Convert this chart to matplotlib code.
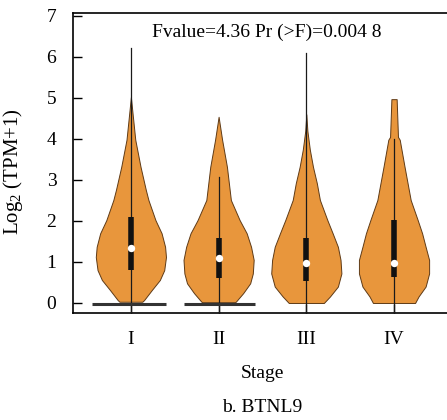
import numpy as np
import matplotlib
matplotlib.use("Agg")
import matplotlib.pyplot as plt

plt.rc('font', family='Liberation Serif', size=14)
plt.rc('mathtext', fontset='custom', rm='Liberation Serif', it='Liberation Serif:italic')

stages = ['I', 'II', 'III', 'IV']

# violin outlines: heights and half widths, one pair of lists per stage
prof_y_I = [5.02, 4.50, 3.98, 3.32, 2.76, 2.51, 2.02, 1.70, 1.37, 1.12, 0.80, 0.56, 0.32, 0.07, 0.03]
prof_w_I = [0.00, 0.025, 0.05, 0.11, 0.17, 0.20, 0.28, 0.35, 0.39, 0.40, 0.38, 0.33, 0.24, 0.15, 0.13]
prof_y_II = [4.54, 3.98, 3.32, 2.51, 2.02, 1.70, 1.37, 1.05, 0.72, 0.48, 0.24, 0.04, 0.02]
prof_w_II = [0.00, 0.04, 0.095, 0.14, 0.24, 0.32, 0.37, 0.40, 0.39, 0.36, 0.28, 0.20, 0.19]
prof_y_III = [4.60, 4.20, 3.74, 3.32, 2.92, 2.51, 2.02, 1.70, 1.37, 1.05, 0.72, 0.40, 0.16, 0.00]
prof_w_III = [0.00, 0.012, 0.04, 0.076, 0.12, 0.155, 0.24, 0.30, 0.36, 0.39, 0.40, 0.36, 0.27, 0.20]
prof_y_IV = [4.97, 4.05, 3.98, 3.32, 2.51, 2.02, 1.70, 1.37, 1.05, 0.72, 0.40, 0.16, 0.00]
prof_w_IV = [0.03, 0.045, 0.065, 0.12, 0.19, 0.27, 0.32, 0.36, 0.40, 0.40, 0.36, 0.28, 0.24]

medians = [1.34, 1.10, 0.97, 0.98]
q1 = [0.80, 0.60, 0.54, 0.64]
q3 = [2.10, 1.58, 1.58, 2.02]
whisk_top = [6.21, 3.08, 6.09, 4.00]

# flat bars at zero for stages I and II (left, right offsets)
zero_bars = {0: (-0.44, 0.40), 1: (-0.39, 0.41)}

profiles = [(prof_y_I, prof_w_I), (prof_y_II, prof_w_II),
            (prof_y_III, prof_w_III), (prof_y_IV, prof_w_IV)]

fig = plt.figure(figsize=(4.47, 4.20), dpi=100)
ax = fig.add_axes([0.1633, 0.2548, 1.011 - 0.1633, 0.969 - 0.2548])

fill = '#E8963C'
edge = '#5e3a16'

for i, (py, pw) in enumerate(profiles):
    pos = i + 1
    py = np.array(py)
    pw = np.array(pw)
    ax.fill_betweenx(py, pos - pw, pos + pw, facecolor=fill, edgecolor=edge,
                     linewidth=0.7, zorder=2)
    # whisker line from zero up to max
    ax.plot([pos, pos], [-0.24, whisk_top[i]], color='#1a1a1a', lw=0.9, zorder=3)
    # interquartile box
    ax.plot([pos, pos], [q1[i], q3[i]], color='#111111', lw=4.0,
            solid_capstyle='butt', zorder=4)
    ax.scatter([pos], [medians[i]], s=28, color='white', zorder=5, linewidths=0)
    if i in zero_bars:
        l, r = zero_bars[i]
        ax.plot([pos + l, pos + r], [-0.03, -0.03], color='#333333', lw=2.2,
                solid_capstyle='butt', zorder=3)

ax.set_xlim(0.34, 4.66)
ax.set_ylim(-0.244, 7.07)
ax.set_xticks(range(1, 5))
ax.set_xticklabels(stages)
ax.set_yticks(range(0, 8))
ax.tick_params(direction='in', length=6.5, width=1.0, pad=13)
ax.tick_params(axis='y', pad=12)
for s in ax.spines.values():
    s.set_linewidth(1.2)

ax.set_xlabel('Stage', labelpad=12)
ax.set_ylabel(r'Log$_2$ (TPM+1)', fontsize=15)
ax.yaxis.set_label_coords(-0.127, 0.47)

ax.text(2.55, 6.59, 'Fvalue=4.36 Pr (>F)=0.004 8', ha='center', va='center',
        fontsize=14)

fig.text(0.587, 1 - 408 / 420, 'b. BTNL9', ha='center', va='center', fontsize=14)

fig.savefig('out.png', dpi=100)
